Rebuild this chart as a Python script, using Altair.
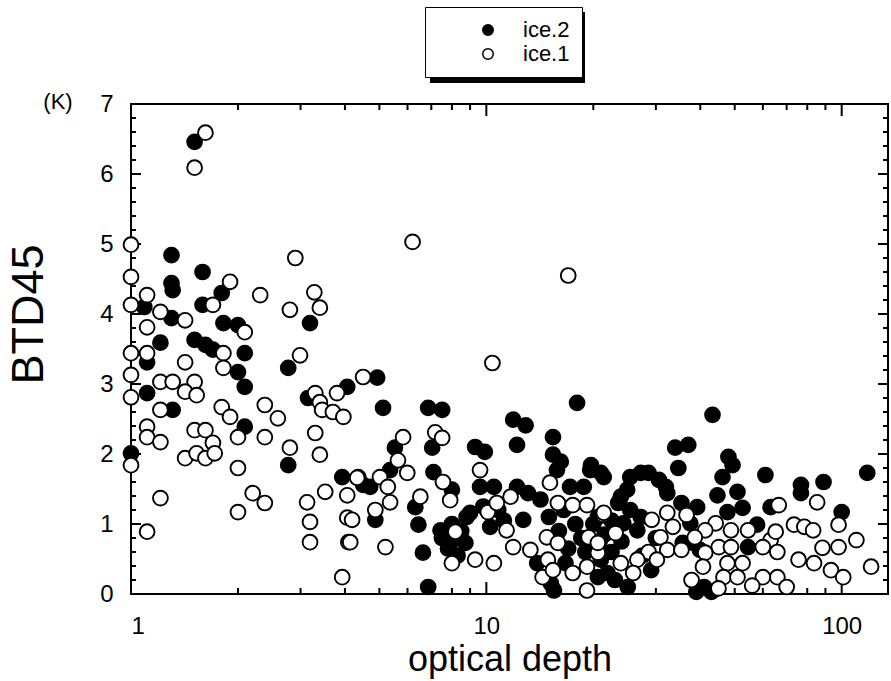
import altair as alt
import pandas as pd

FONT = "Liberation Sans Narrow, Liberation Sans, Arial, sans-serif"

# ice.2 (filled circles)
ice2_x = [1.51, 1.30, 1.59, 1.30, 1.31, 1.80, 1.09, 1.59, 1.30, 3.19, 1.82, 2.00, 1.21, 1.51, 1.62,
          1.70, 2.09, 1.11, 2.00, 2.09, 1.11, 2.77, 4.06, 3.15, 1.31, 2.09, 2.77, 1.00, 3.93, 4.50,
          4.93, 5.12, 6.86, 7.51, 11.9, 12.9, 18.0, 12.2, 15.4, 7.04, 5.53, 9.3, 9.9, 15.4, 16.2,
          19.7, 21.0, 5.36, 7.1, 4.71, 6.31, 8.0, 4.87, 6.44, 7.43, 7.91, 8.73, 9.0, 10.25, 9.6,
          10.5, 12.2, 13.1, 12.7, 15.8, 17.2, 20.6, 18.8, 13.9, 16.7, 20.6, 6.63, 6.86,
          8.0, 7.5, 8.5, 7.8, 8.8, 8.3, 10.8, 11.2, 9.8, 14.2, 15.0, 16.5, 17.8, 18.5, 17.0, 19.0,
          16.0, 20.0, 21.5, 22.5, 15.5, 15.2,
          43.3, 34.0, 37.0, 48.0, 49.3, 34.7, 46.2, 61.0, 88.9, 118, 76.8, 76.8, 44.7, 50.9, 100,
          52.6, 47.7, 39.2, 63.1, 57.8, 54.5, 39.9, 19.6, 21.4, 25.4, 27.2, 28.6, 30.6, 32.0, 32.3,
          24.9, 23.9, 23.5, 25.4, 27.2, 24.3, 26.6, 29.1, 21.9, 21.0, 35.4, 37.5, 38.2, 35.7,
          39.0, 43.0, 41.0, 22.5, 24.0, 27.5, 30.0, 23.0, 25.0]
ice2_y = [6.46, 4.84, 4.60, 4.44, 4.34, 4.30, 4.10, 4.13, 3.94, 3.87, 3.87, 3.84, 3.59, 3.63, 3.56,
          3.49, 3.44, 3.31, 3.17, 2.96, 2.87, 3.23, 2.96, 2.80, 2.63, 2.39, 1.84, 2.01, 1.67, 1.56,
          3.09, 2.66, 2.66, 2.63, 2.49, 2.41, 2.73, 2.13, 2.24, 2.09, 2.09, 2.10, 2.03, 1.99, 1.89,
          1.84, 1.73, 1.77, 1.74, 1.53, 1.24, 1.49, 1.06, 0.99, 0.91, 0.73, 0.73, 1.16, 0.96, 1.53,
          1.53, 1.53, 1.44, 1.06, 1.77, 1.53, 1.10, 1.53, 0.44, 0.44, 0.24, 0.59, 0.10,
          1.00, 0.80, 0.90, 0.65, 1.10, 0.55, 1.20, 1.05, 1.25, 1.35, 1.10, 1.20, 1.00, 0.80, 0.65, 0.60,
          0.90, 1.00, 0.85, 0.60, 0.05, 0.15,
          2.56, 2.09, 2.13, 1.96, 1.84, 1.80, 1.67, 1.70, 1.60, 1.73, 1.56, 1.44, 1.41, 1.46, 1.17,
          1.23, 1.17, 1.24, 1.24, 0.99, 0.67, 0.63, 1.77, 1.67, 1.67, 1.73, 1.73, 1.63, 1.53, 1.44,
          1.49, 1.39, 1.30, 1.20, 1.10, 1.01, 0.91, 0.34, 0.30, 0.49, 1.30, 1.01, 0.73, 0.73,
          0.03, 0.03, 0.10, 1.05, 0.75, 0.55, 0.80, 0.20, 0.10]

# ice.1 (open circles)
ice1_x = [1.62, 1.51, 1.00, 1.00, 1.90, 2.90, 2.31, 3.28, 3.40, 2.80, 1.00, 1.11, 1.21, 1.42, 1.11,
          1.70, 2.09, 1.82, 1.00, 1.11, 1.42, 1.82, 1.00, 1.21, 1.31, 1.51, 1.42, 1.53, 1.00, 2.99,
          4.50, 3.80, 3.30, 3.40, 3.45, 3.70, 3.96, 1.21, 1.80, 1.90, 2.00, 1.11, 1.11, 1.21, 1.51,
          1.62, 1.70, 2.38, 2.59, 2.38, 3.30, 2.80, 3.40, 1.00, 1.42, 1.53, 1.62, 1.72, 2.00, 1.21,
          2.20, 2.38, 2.00, 1.11, 3.13, 3.19, 3.19, 3.52, 4.36, 4.06, 4.06, 4.09, 3.93,
          10.4, 6.2, 17.0, 5.83, 7.18, 7.51, 9.6, 5.64, 5.99, 7.55, 4.33, 5.02, 5.28, 5.36, 6.52,
          7.91, 4.87, 4.19, 8.18, 10.1, 10.7, 11.7, 11.4, 11.9, 13.3, 15.1, 15.9, 17.5, 19.2, 21.3,
          14.8, 15.9, 14.9, 14.4, 15.4, 17.5, 19.2, 19.4, 20.8, 20.6, 5.2, 8.0, 9.3, 10.5, 4.14, 19.2,
          66.5, 85.3, 98.0, 73.4, 78.5, 83.1, 110, 98.0, 88.3, 75.6, 83.6, 93.3, 101, 121, 63.1,
          65.9, 60.0, 65.2, 65.9, 60.0, 54.5, 48.8, 44.2, 41.3, 38.6, 45.1, 41.3, 48.8, 47.7, 52.6,
          40.7, 37.8, 46.5, 50.9, 32.3, 33.5, 36.6, 29.2, 30.9, 28.6, 32.3, 35.4, 26.6, 30.2, 25.9,
          23.9, 20.6, 21.4, 23.1, 45.0, 56.0, 70.0]
ice1_y = [6.59, 6.09, 4.99, 4.53, 4.46, 4.80, 4.27, 4.31, 4.09, 4.06, 4.13, 4.27, 4.03, 3.91, 3.81,
          4.13, 3.74, 3.44, 3.44, 3.44, 3.31, 3.23, 3.13, 3.03, 3.03, 3.03, 2.89, 2.84, 2.81, 3.41,
          3.10, 2.87, 2.87, 2.74, 2.63, 2.60, 2.53, 2.63, 2.67, 2.53, 2.24, 2.39, 2.24, 2.17, 2.34,
          2.34, 2.16, 2.70, 2.51, 2.24, 2.30, 2.09, 1.99, 1.84, 1.94, 2.01, 1.94, 2.01, 1.80, 1.37,
          1.44, 1.30, 1.17, 0.89, 1.31, 1.03, 0.74, 1.46, 1.67, 1.41, 1.09, 0.74, 0.24,
          3.30, 5.03, 4.55, 2.24, 2.31, 2.23, 1.77, 1.91, 1.73, 1.60, 1.66, 1.67, 1.53, 1.31, 1.39,
          1.34, 1.20, 1.06, 0.89, 1.17, 1.30, 1.39, 0.91, 0.67, 0.63, 1.59, 1.30, 1.27, 1.27, 1.13,
          0.81, 0.73, 0.49, 0.24, 0.34, 0.30, 0.39, 0.81, 0.73, 0.59, 0.67, 0.44, 0.49, 0.44, 0.74, 0.05,
          1.27, 1.31, 0.99, 0.99, 0.96, 0.91, 0.77, 0.67, 0.66, 0.49, 0.44, 0.34, 0.24, 0.39, 0.77,
          0.60, 0.67, 0.89, 0.24, 0.24, 0.91, 0.91, 1.01, 0.91, 0.81, 0.67, 0.59, 0.67, 0.44, 0.44,
          0.39, 0.20, 0.24, 0.24, 1.16, 0.96, 1.13, 1.06, 0.81, 0.60, 0.63, 0.63, 0.49, 0.49, 0.30,
          0.44, 0.73, 1.16, 0.87, 0.08, 0.12, 0.10]

series_names = ["ice.2", "ice.1"]
x_major = [1, 10, 100]
x_minor = [2, 3, 4, 5, 6, 7, 8, 9, 20, 30, 40, 50, 60, 70, 80, 90]
y_major = [0, 1, 2, 3, 4, 5, 6, 7]
y_minor = [0.2, 0.4, 0.6, 0.8, 1.2, 1.4, 1.6, 1.8, 2.2, 2.4, 2.6, 2.8, 3.2, 3.4, 3.6, 3.8,
           4.2, 4.4, 4.6, 4.8, 5.2, 5.4, 5.6, 5.8, 6.2, 6.4, 6.6, 6.8]

W, H = 757, 490

df = pd.DataFrame({
    "x": ice2_x + ice1_x,
    "y": ice2_y + ice1_y,
    "series": [series_names[0]] * len(ice2_x) + [series_names[1]] * len(ice1_x),
})


def xscale():
    return alt.Scale(type="log", domain=[1, 135], nice=False)


def yscale():
    return alt.Scale(domain=[0, 7], nice=False, zero=False)


def x_axis():
    return alt.Axis(orient="bottom", values=x_major, format="d", ticks=False, tickSize=0,
                    domain=False, grid=False, labelPadding=20, labelFontSize=24, labelFont=FONT,
                    labelColor="black", title="optical depth",
                    titleFont=FONT, titleFontSize=36, titleFontWeight="normal",
                    titleColor="black", titlePadding=4)


def y_axis():
    return alt.Axis(orient="left", values=y_major, format="d", ticks=False, tickSize=0,
                    domain=False, grid=False, labelPadding=18, labelFontSize=24, labelFont=FONT,
                    labelColor="black", title="BTD45",
                    titleFont=FONT, titleFontSize=45, titleFontWeight="normal",
                    titleColor="black", titlePadding=48, titleY=210)


points = alt.Chart(df).mark_point(filled=True, size=220, stroke="black", strokeWidth=1.9,
                                  opacity=1, clip=False).encode(
    x=alt.X("x:Q", scale=xscale(), axis=x_axis()),
    y=alt.Y("y:Q", scale=yscale(), axis=y_axis()),
    fill=alt.Fill("series:N", scale=alt.Scale(domain=series_names, range=["black", "white"]),
                  legend=alt.Legend(orient="none", legendX=294, legendY=-97, title=None,
                                    strokeColor="black", fillColor="white", padding=12,
                                    symbolOffset=40, labelOffset=24, symbolType="circle",
                                    symbolSize=110, symbolStrokeColor="black",
                                    symbolStrokeWidth=1.5, labelFontSize=22, labelFont=FONT,
                                    labelColor="black", rowPadding=2)),
)


def xticks(values, y0, y1):
    return alt.Chart(pd.DataFrame({"v": values})).mark_rule(color="black", strokeWidth=2).encode(
        x=alt.X("v:Q", scale=xscale(), axis=x_axis()),
        y=alt.value(y0), y2=alt.value(y1))


def yticks(values, x0, x1):
    return alt.Chart(pd.DataFrame({"v": values})).mark_rule(color="black", strokeWidth=2).encode(
        y=alt.Y("v:Q", scale=yscale(), axis=y_axis()),
        x=alt.value(x0), x2=alt.value(x1))


tick_layers = [
    xticks(x_major, H, H - 12), xticks(x_minor, H, H - 6),
    xticks(x_major, 0, 12), xticks(x_minor, 0, 6),
    yticks(y_major, 0, 10), yticks(y_minor, 0, 5),
    yticks(y_major, W, W - 10), yticks(y_minor, W, W - 5),
]

one = alt.Data(values=[{"k": 0}])
shadow = alt.Chart(one).mark_rect(color="black").encode(
    x=alt.value(299), x2=alt.value(454), y=alt.value(-92), y2=alt.value(-21))
unit = alt.Chart(one).mark_text(fontSize=22, font=FONT, color="black", align="center",
                                baseline="middle").encode(
    x=alt.value(-73), y=alt.value(-2), text=alt.value("(K)"))

chart = alt.layer(shadow, unit, *tick_layers, points).properties(
    width=W, height=H,
    autosize=alt.AutoSizeParams(type="none"),
    padding={"left": 131, "top": 104, "right": 3, "bottom": 87},
    background="white",
).configure_view(stroke="black", strokeWidth=2)

chart.save("out.html", embed_options={"renderer": "svg", "actions": False})
